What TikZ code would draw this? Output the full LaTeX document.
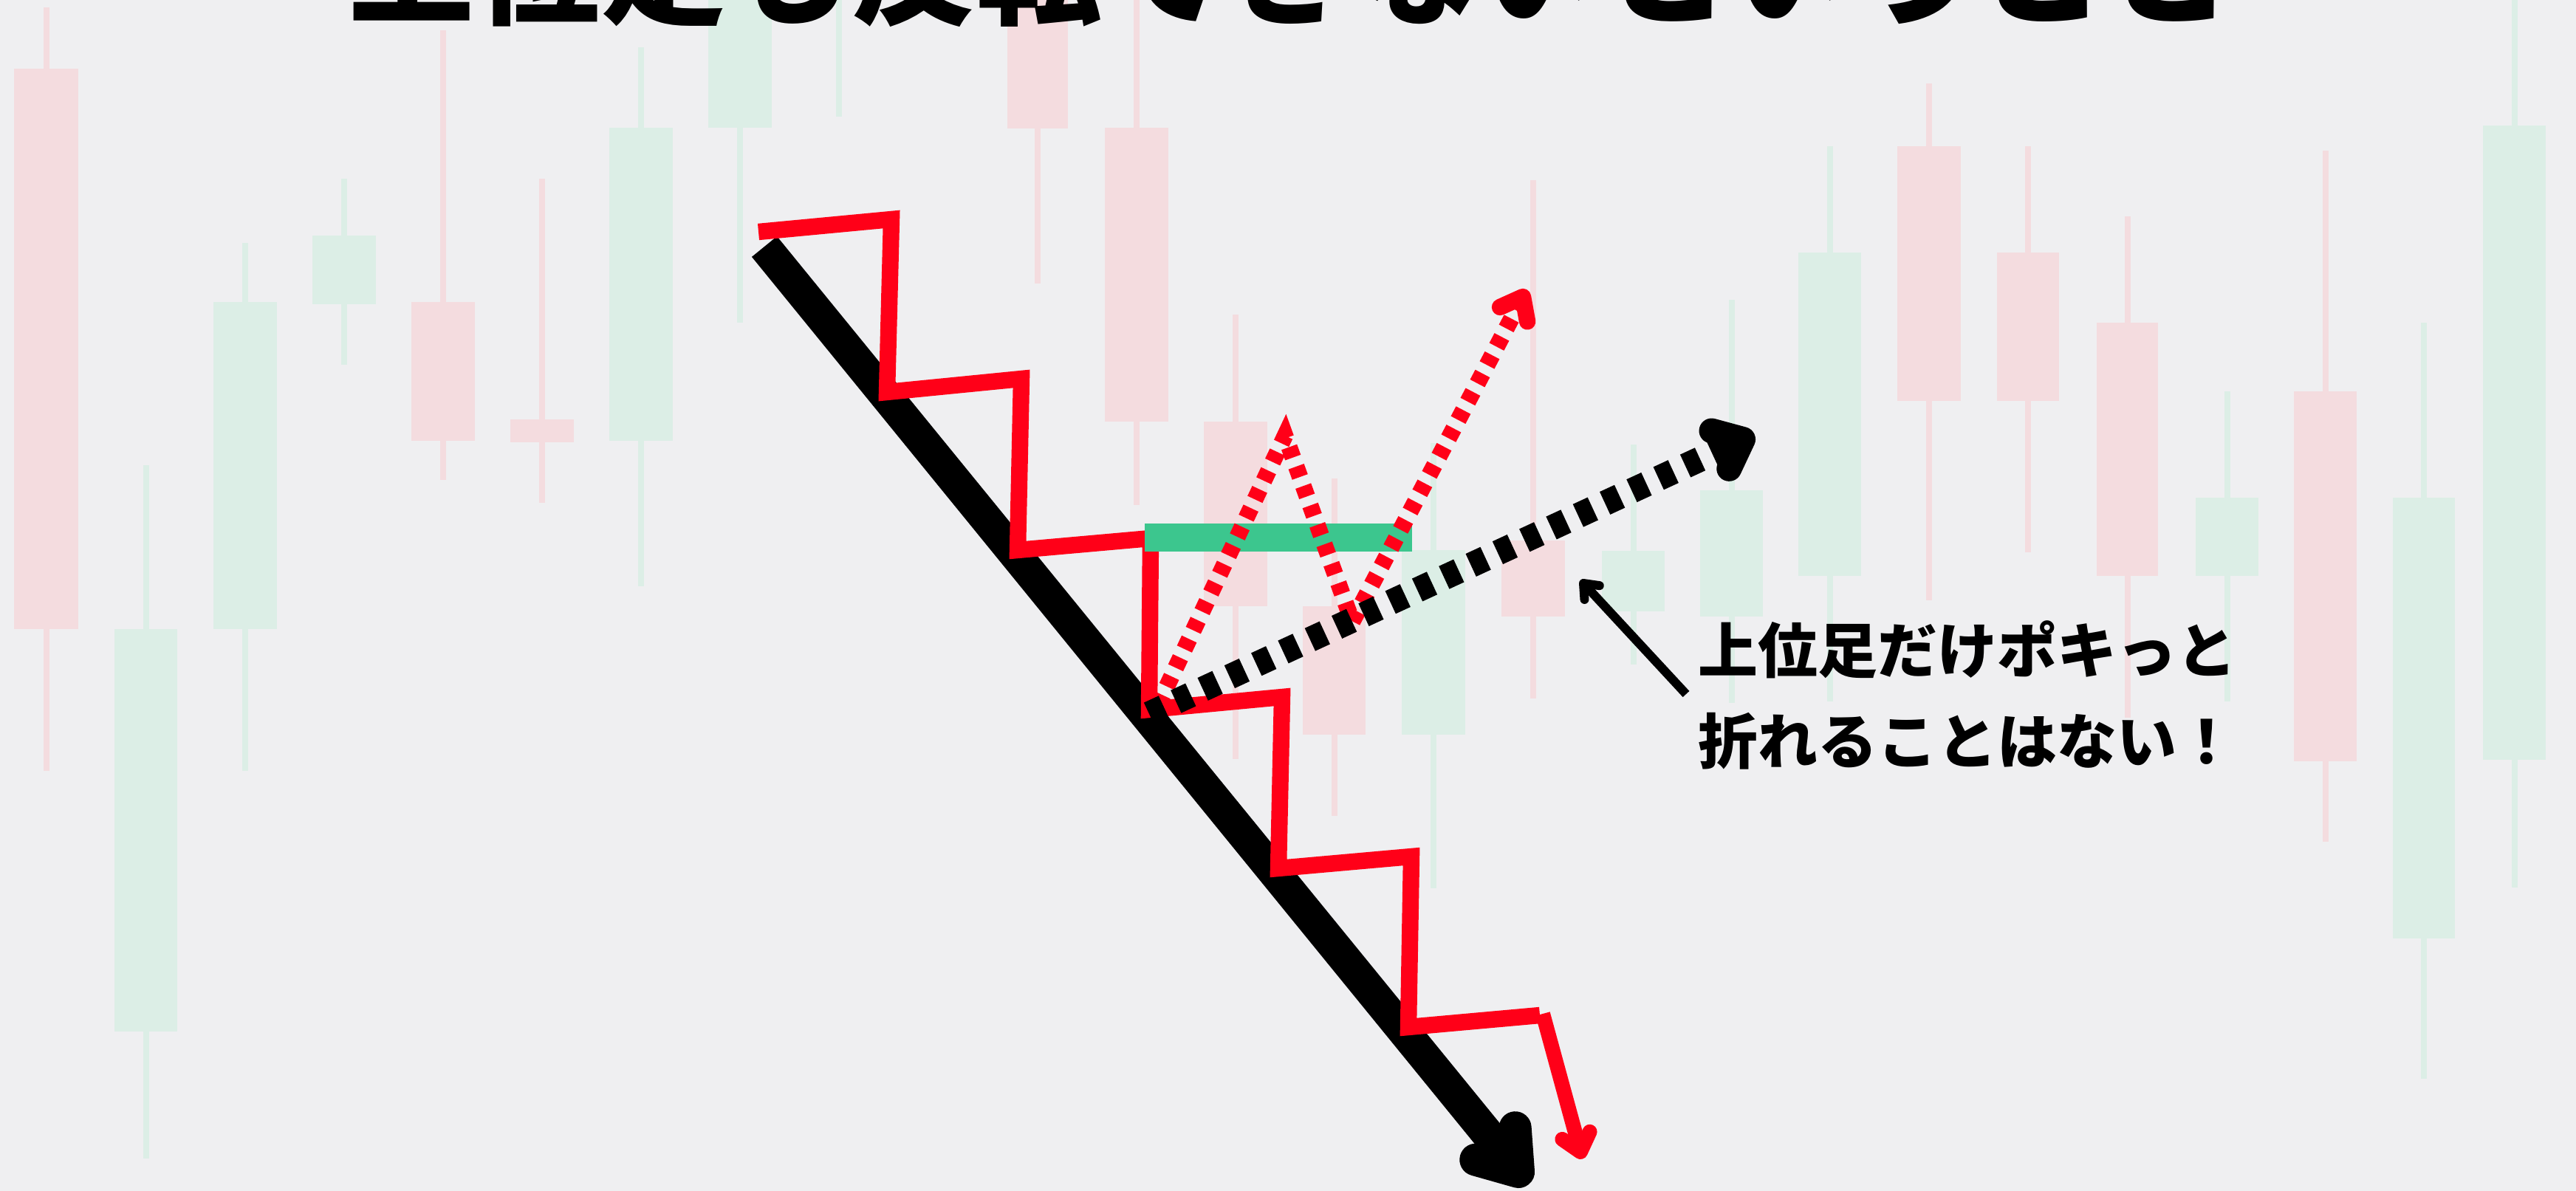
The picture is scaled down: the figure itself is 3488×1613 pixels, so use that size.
\documentclass[tikz,border=0pt]{standalone}
\usepackage{fontspec}
\newfontfamily\jp{Noto Sans CJK JP}
\usetikzlibrary{calc}
\definecolor{paper}{RGB}{239,239,241}
\definecolor{cpink}{RGB}{244,220,223}
\definecolor{cgreen}{RGB}{220,238,230}
\definecolor{lred}{RGB}{255,0,24}
\definecolor{lgreen}{RGB}{60,198,142}
\newcommand\cdl[7]{%
  \fill[#7] ({(#1+#2)/2-4},#5) rectangle ({(#1+#2)/2+4},#6);
  \fill[#7] (#1,#3) rectangle (#2,#4);}
\begin{document}
\begin{tikzpicture}[x=0.25pt,y=-0.25pt,
  cp/.style={cpink}, cg/.style={cgreen},
  mainline/.style={line width=11pt,black},
  zig/.style={line width=5.6pt,lred,line join=miter},
  reddot/.style={line width=5.6pt,lred,dash pattern=on 3.75pt off 3.25pt},
  blackdot/.style={line width=8.5pt,black,dash pattern=on 5.5pt off 4.5pt},
  chev/.style={line cap=round,line join=round},
  titletext/.style={inner sep=0,outer sep=0,font=\jp\bfseries\fontsize{42.5pt}{50pt}\selectfont},
  notetext/.style={inner sep=0,outer sep=0,font=\jp\bfseries\fontsize{20.25pt}{24pt}\selectfont}]
\useasboundingbox (0,0) rectangle (3488,1613);
\fill[paper] (0,0) rectangle (3488,1613);
% candles
\cdl{19}{106}{93}{852}{10}{1044}{cp}
\cdl{155}{240}{852}{1397}{630}{1569}{cg}
\cdl{289}{375}{409}{852}{329}{1044}{cg}
\cdl{423}{509}{319}{412}{242}{494}{cg}
\cdl{557}{643}{409}{597}{41}{650}{cp}
\cdl{691}{777}{568}{599}{242}{681}{cp}
\cdl{825}{911}{173}{597}{64}{794}{cg}
\cdl{959}{1045}{-10}{173}{-10}{437}{cg}
\fill[cgreen] (1132,-10) rectangle (1140,158);
\cdl{1364}{1446}{-10}{174}{-10}{384}{cp}
\cdl{1496}{1582}{173}{571}{-10}{684}{cp}
\cdl{1630}{1716}{571}{821}{426}{1028}{cp}
\cdl{1764}{1849}{821}{995}{648}{1105}{cp}
\cdl{1898}{1984}{745}{995}{600}{1203}{cg}
\cdl{2033}{2119}{732}{835}{244}{946}{cp}
\cdl{2169}{2254}{746}{828}{602}{900}{cg}
\cdl{2302}{2387}{664}{835}{406}{952}{cg}
\cdl{2435}{2520}{342}{780}{198}{950}{cg}
\cdl{2569}{2655}{198}{543}{113}{813}{cp}
\cdl{2704}{2788}{342}{543}{198}{748}{cp}
\cdl{2839}{2922}{437}{780}{293}{972}{cp}
\cdl{2973}{3058}{674}{780}{530}{950}{cg}
\cdl{3106}{3191}{530}{1031}{204}{1140}{cp}
\cdl{3240}{3324}{674}{1271}{437}{1461}{cg}
\cdl{3362}{3447}{170}{1029}{-10}{1202}{cg}
% title (cut off at the top)
\node[titletext,anchor=base west] (title) at (472,21) {上位足も反転できないということ};
% coordinates
\coordinate (mTop) at (1035,334);
\coordinate (mTip) at (2056,1587);
\coordinate (z0) at (1027,314);
\coordinate (z1) at (1207,297);
\coordinate (z2) at (1201,531);
\coordinate (z3) at (1383,513);
\coordinate (z4) at (1378,745);
\coordinate (z5) at (1558,729);
\coordinate (z6) at (1556,961);
\coordinate (z7) at (1736,944);
\coordinate (z8) at (1731,1176);
\coordinate (z9) at (1911,1160);
\coordinate (z10) at (1907,1391);
\coordinate (z11) at (2085,1375);
\coordinate (ra0) at (2089,1373);
\coordinate (raTip) at (2140,1560);
\coordinate (gL) at (1550,728);
\coordinate (gR) at (1912,728);
\coordinate (rs) at (1568,955);
\coordinate (rp) at (1740,590);
\coordinate (rv) at (1831,842);
\coordinate (rt) at (2062,402);
\coordinate (bs) at (1556,967);
\coordinate (bt) at (2360,595);
\coordinate (aTail) at (2283,940);
\coordinate (aTip) at (2144,790);
% main black trend arrow
\draw[mainline] (mTop) -- (mTip);
\draw[mainline,chev] ($(mTip)!15pt!35:(mTop)$) -- (mTip) -- ($(mTip)!15pt!-35:(mTop)$);
% red zigzag
\draw[zig] (z0) -- (z1) -- (z2) -- (z3) -- (z4) -- (z5) -- (z6) -- (z7) -- (z8) -- (z9) -- (z10) -- (z11);
\draw[line width=5pt,lred] (ra0) -- (raTip);
\draw[line width=5pt,lred,chev] ($(raTip)!7.5pt!40:(ra0)$) -- (raTip) -- ($(raTip)!7.5pt!-40:(ra0)$);
% green level
\draw[line width=9.5pt,lgreen] (gL) -- (gR);
% red dotted scenario
\draw[reddot] (rs) -- (rp) -- (rv) -- (rt);
\draw[line width=5.6pt,lred,chev] ($(rt)!8.5pt!38:(rv)$) -- (rt) -- ($(rt)!8.5pt!-38:(rv)$);
% black dotted scenario
\draw[blackdot] (bs) -- (bt);
\draw[line width=8.5pt,black,chev] ($(bt)!11pt!40:(bs)$) -- (bt) -- ($(bt)!11pt!-40:(bs)$);
% annotation
\node[notetext,anchor=base west] (t1) at (2299,911) {上位足だけポキっと};
\node[notetext,anchor=base west] (t2) at (2299,1034) {折れることはない！};
\draw[line width=3pt,black] (aTail) -- (aTip);
\draw[line width=3pt,black,chev] ($(aTip)!5.5pt!39:(aTail)$) -- (aTip) -- ($(aTip)!5.5pt!-39:(aTail)$);
\end{tikzpicture}
\end{document}
